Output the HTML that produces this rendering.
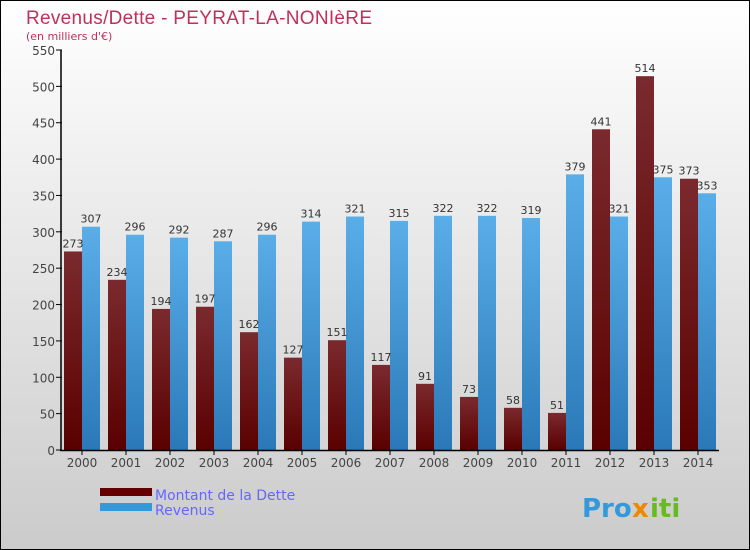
<!DOCTYPE html>
<html><head><meta charset="utf-8"><style>
html,body{margin:0;padding:0;width:750px;height:550px;overflow:hidden}
svg{display:block;font-family:"DejaVu Sans","Liberation Sans",sans-serif}
</style></head><body>
<svg id="s" width="750" height="550" viewBox="0 0 750 550" xmlns="http://www.w3.org/2000/svg">
<defs>
<linearGradient id="bg" x1="0" y1="0" x2="0" y2="1"><stop offset="0" stop-color="#ffffff"/><stop offset="1" stop-color="#cbcbcb"/></linearGradient>
<linearGradient id="gd" x1="0" y1="0" x2="0" y2="1"><stop offset="0" stop-color="#7a2a2e"/><stop offset="1" stop-color="#5a0000"/></linearGradient>
<linearGradient id="gr" x1="0" y1="0" x2="0" y2="1"><stop offset="0" stop-color="#5aaee8"/><stop offset="1" stop-color="#2a78b8"/></linearGradient>
</defs>
<rect x="0.5" y="0.5" width="749" height="549" fill="url(#bg)" stroke="#000"/>
<text x="26" y="24" font-size="19" fill="#c0305a" font-family="Liberation Sans,sans-serif" textLength="346">Revenus/Dette - PEYRAT-LA-NONIèRE</text>
<text x="26" y="40" font-size="11" fill="#c0305a">(en milliers d'€)</text>
<g id="g"></g>
<rect x="100" y="488" width="52" height="8" fill="#650000"/>
<rect x="100" y="503" width="52" height="8" fill="#3399dd"/>
<text x="155" y="500" font-size="14" fill="#6666ff">Montant de la Dette</text>
<text x="155" y="515" font-size="14" fill="#6666ff">Revenus</text>
<text x="582" y="517" font-size="26" font-weight="bold" fill="#3399dd">Pro</text>
<text x="632" y="517" font-size="26" font-weight="bold" fill="#ee8800">x</text>
<text x="650" y="517" font-size="26" font-weight="bold" fill="#66bb22">iti</text>
</svg>
<script>
var d=[273,234,194,197,162,127,151,117,91,73,58,51,441,514,373];
var r=[307,296,292,287,296,314,321,315,322,322,319,379,321,375,353];
var k=400/550,h='';
for(var v=0;v<=550;v+=50){var y=450-v*k;
h+='<line x1="56" y1="'+y+'" x2="62" y2="'+y+'" stroke="#000"/>';
h+='<text x="55" y="'+(y+5)+'" font-size="12" fill="#444" text-anchor="end">'+v+'</text>';}
for(var i=0;i<15;i++){var x=64+44*i;
var hd=d[i]*k,hr=r[i]*k;
h+='<rect x="'+x+'" y="'+(450-hd)+'" width="18" height="'+hd+'" fill="url(#gd)"/>';
h+='<rect x="'+(x+18)+'" y="'+(450-hr)+'" width="18" height="'+hr+'" fill="url(#gr)"/>';
h+='<text x="'+(x+9)+'" y="'+(446-hd)+'" font-size="11" fill="#333" text-anchor="middle">'+d[i]+'</text>';
h+='<text x="'+(x+27)+'" y="'+(446-hr)+'" font-size="11" fill="#333" text-anchor="middle">'+r[i]+'</text>';
h+='<line x1="'+(x+18)+'" y1="450" x2="'+(x+18)+'" y2="455" stroke="#000"/>';
h+='<text x="'+(x+18)+'" y="467" font-size="12" fill="#444" text-anchor="middle">'+(2000+i)+'</text>';}
h+='<line x1="61" y1="50" x2="61" y2="451" stroke="#000" stroke-width="1.5"/>';
h+='<line x1="60" y1="450.5" x2="719" y2="450.5" stroke="#000" stroke-width="1.5"/>';
document.getElementById('g').innerHTML=h;
</script>
</body></html>
